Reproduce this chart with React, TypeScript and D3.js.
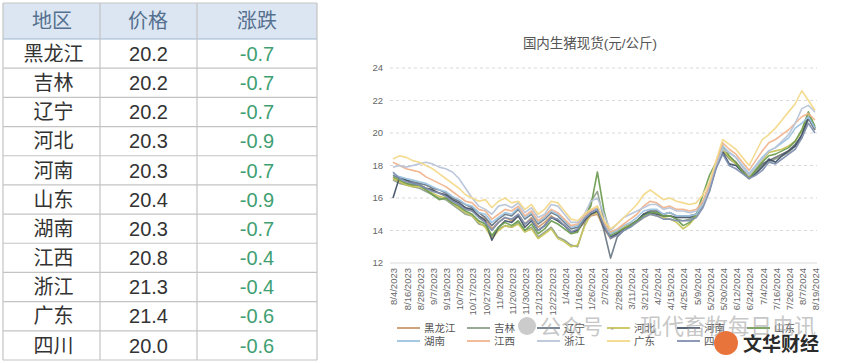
import React from 'react';
import * as d3 from 'd3';

// table data
const regions = ['黑龙江', '吉林', '辽宁', '河北', '河南', '山东', '湖南', '江西', '浙江', '广东', '四川'];
const prices = ['20.2', '20.2', '20.2', '20.3', '20.3', '20.4', '20.3', '20.8', '21.3', '21.4', '20.0'];
const changes = ['-0.7', '-0.7', '-0.7', '-0.9', '-0.7', '-0.9', '-0.7', '-0.4', '-0.4', '-0.6', '-0.6'];

// x axis labels (every other data point)
const tickLabels = [
  '8/4/2023', '8/16/2023', '8/28/2023', '9/7/2023', '9/19/2023', '10/7/2023', '10/17/2023', '10/27/2023',
  '11/8/2023', '11/20/2023', '11/30/2023', '12/12/2023', '12/22/2023', '1/4/2024', '1/16/2024', '1/26/2024',
  '2/7/2024', '2/28/2024', '3/11/2024', '3/21/2024', '4/2/2024', '4/15/2024', '4/25/2024', '5/9/2024',
  '5/20/2024', '5/30/2024', '6/12/2024', '6/24/2024', '7/4/2024', '7/16/2024', '7/26/2024', '8/7/2024', '8/19/2024',
];
const yTicks = [12, 14, 16, 18, 20, 22, 24];

const heilongjiang = [17.2,17.0,16.9,16.8,16.8,16.6,16.5,16.3,16.1,15.9,15.6,15.4,15.2,14.9,14.7,14.1,14.5,14.8,14.6,15.0,14.4,14.8,14.2,14.5,14.9,14.6,14.3,13.9,14.0,14.5,14.9,15.0,14.1,13.5,13.8,14.1,14.3,14.6,15.0,15.2,15.2,15.0,15.1,14.9,14.9,14.9,15.0,15.6,16.5,17.9,18.9,18.5,18.2,17.7,17.3,17.7,18.1,18.3,18.5,18.7,18.9,19.3,19.8,20.9,20.2];
const jilin = [17.1,16.9,16.8,16.7,16.6,16.4,16.2,16.0,15.9,15.6,15.3,15.0,14.9,14.4,14.3,13.6,14.1,14.3,14.2,14.5,14.0,14.2,13.6,13.9,14.2,13.6,13.4,13.1,13.0,14.3,15.8,16.4,14.6,13.8,13.9,14.2,14.4,14.6,15.0,15.2,15.1,14.9,14.9,14.7,14.6,14.7,14.9,15.6,16.6,17.9,18.9,18.4,18.1,17.6,17.2,17.6,18.0,18.2,18.4,18.6,18.8,19.2,19.7,20.9,20.2];
const liaoning = [17.4,17.2,17.1,17.0,16.9,16.8,16.6,16.5,16.3,16.0,15.8,15.6,15.4,15.1,14.8,14.3,14.7,15.0,14.9,15.3,14.7,15.0,14.4,14.7,15.1,14.9,14.5,14.1,14.2,14.8,15.2,15.4,14.0,12.3,13.6,14.0,14.3,14.6,15.0,15.2,15.2,15.0,15.1,14.9,14.9,14.9,15.0,15.6,16.5,17.9,18.9,18.5,18.2,17.7,17.3,17.7,18.1,18.3,18.5,18.7,18.9,19.3,19.8,20.9,20.2];
const hebei = [17.2,17.0,16.8,16.7,16.7,16.5,16.3,16.1,16.0,15.7,15.4,15.1,14.9,14.5,14.2,13.5,14.0,14.3,14.2,14.4,13.9,14.1,13.5,13.8,14.1,13.5,13.3,13.0,13.1,14.2,15.0,15.1,14.3,13.9,14.0,14.2,14.3,14.5,14.8,15.0,14.9,14.8,14.7,14.5,14.1,14.4,14.9,15.8,16.8,18.1,19.0,18.5,18.1,17.6,17.3,17.8,18.3,18.8,18.9,19.0,19.2,19.5,20.1,21.2,20.3];
const henan = [16.0,17.3,17.1,16.9,16.8,16.6,16.5,16.3,16.2,15.9,15.7,15.4,15.3,14.9,14.6,13.4,14.2,14.6,14.5,14.9,14.2,14.6,14.0,14.3,14.8,14.6,14.3,13.9,14.0,14.6,15.0,15.2,14.2,13.6,13.8,14.1,14.3,14.6,15.0,15.1,15.0,14.9,14.9,14.8,14.8,14.8,15.0,15.6,16.6,18.0,18.8,18.1,18.0,17.6,17.2,17.5,17.9,18.4,18.2,18.6,18.9,19.2,19.9,21.0,20.3];
const shandong = [17.3,17.1,16.9,16.8,16.8,16.5,16.2,15.9,16.0,15.7,15.5,15.2,15.0,14.6,14.4,13.7,14.2,14.5,14.3,14.6,14.0,14.4,13.8,14.1,14.6,14.4,14.1,13.8,13.9,14.8,15.5,17.6,15.2,13.7,13.9,14.1,14.3,14.6,14.9,15.1,15.1,14.9,14.9,14.7,14.3,14.5,15.0,16.2,17.4,18.2,19.2,18.6,18.2,17.6,17.2,17.7,18.2,18.6,18.7,18.9,19.1,19.5,20.2,21.3,20.4];
const hunan = [17.5,17.3,17.2,17.1,17.0,16.9,16.7,16.5,16.4,16.1,15.9,15.6,15.5,15.1,15.0,14.5,14.8,15.1,15.0,15.4,14.8,15.1,14.5,14.8,15.2,15.0,14.6,14.2,14.3,14.8,15.2,15.4,14.4,13.8,14.0,14.3,14.5,14.8,15.2,15.3,15.3,15.0,15.1,14.9,14.9,14.9,15.0,15.6,16.7,18.1,19.2,18.8,18.5,18.0,17.5,18.0,18.5,18.9,19.1,19.4,19.7,20.3,20.6,21.0,20.3];
const jiangxi = [18.2,18.0,17.8,17.7,17.6,17.3,17.1,16.9,16.7,16.4,16.1,15.8,15.7,15.3,15.2,14.7,15.0,15.3,15.2,15.5,14.9,15.2,14.6,14.9,15.3,15.1,14.7,14.3,14.4,14.9,15.2,15.5,14.5,13.9,14.1,14.4,14.7,15.0,15.5,15.8,15.7,15.4,15.5,15.3,15.3,15.2,15.3,15.8,16.8,18.2,19.4,19.0,18.7,18.2,17.7,18.3,18.9,19.4,19.6,19.9,20.2,20.6,21.0,21.2,20.8];
const zhejiang = [17.9,18.0,17.9,18.0,18.1,18.2,18.1,17.9,17.8,17.6,17.2,16.6,16.0,15.5,15.3,15.0,15.5,15.6,15.4,15.7,15.1,15.4,14.8,15.0,15.6,15.5,15.0,14.5,14.5,15.0,15.8,16.0,15.0,14.0,14.4,14.8,15.0,15.2,15.4,15.6,15.6,15.3,15.4,15.2,15.2,15.1,15.2,15.6,16.5,17.9,19.0,18.8,18.5,17.9,17.4,17.9,18.4,18.9,19.1,19.5,19.9,20.6,21.5,21.7,21.3];
const guangdong = [18.4,18.6,18.5,18.3,18.2,18.0,17.8,17.5,17.2,16.9,16.6,16.2,16.0,15.8,15.9,15.4,15.8,16.0,15.7,15.8,15.3,15.6,15.0,15.3,15.8,15.7,15.2,14.7,14.6,15.0,15.3,15.5,14.6,14.1,14.4,14.8,15.2,15.6,16.2,16.5,16.2,15.9,16.0,15.8,15.7,15.6,15.7,16.2,17.0,18.3,19.6,19.3,19.0,18.5,18.0,18.8,19.6,19.9,20.3,20.8,21.3,21.8,22.6,22.0,21.4];
const sichuan = [17.6,17.2,17.0,16.9,16.8,16.6,16.4,16.3,16.1,15.8,15.6,15.3,15.2,14.8,14.5,14.0,14.5,14.8,14.7,15.0,14.4,14.7,14.0,14.3,14.8,14.7,14.3,13.9,14.1,14.7,15.1,15.3,14.3,13.5,13.7,14.0,14.2,14.5,14.8,15.0,14.9,14.7,14.7,14.6,14.6,14.6,14.8,15.4,16.4,17.8,18.7,18.0,17.8,17.5,17.2,17.4,17.7,18.2,18.1,18.4,18.7,19.0,19.7,20.6,20.0];

const seriesValues = [heilongjiang, jilin, liaoning, hebei, henan, shandong, hunan, jiangxi, zhejiang, guangdong, sichuan];
const seriesColors = ['#c99a6e', '#8fa08a', '#6d7a86', '#c9c55a', '#44546a', '#6f9e52', '#9cc3e0', '#f1b48e', '#b8c4d8', '#f3d98a', '#7f8fb0'];

const font = '"Liberation Sans", "Noto Sans CJK SC", sans-serif';

const colX = [3, 100, 197, 317];
const headerTop = 3;
const headerBottom = 39;
const rowH = (360 - headerBottom) / regions.length;

const Table = () => (
  <g fontFamily={font}>
    <rect x={colX[0]} y={headerTop} width={colX[3] - colX[0]} height={headerBottom - headerTop} fill="#dbe6f2" />
    {regions.map((r, i) => {
      const yc = headerBottom + rowH * (i + 0.5);
      return (
        <g key={r}>
          <text x={(colX[0] + colX[1]) / 2 + 2} y={yc} dy="0.36em" textAnchor="middle" fontSize={20} fill="#333">{r}</text>
          <text x={(colX[1] + colX[2]) / 2} y={yc} dy="0.36em" textAnchor="middle" fontSize={20} fill="#333">{prices[i]}</text>
          <text x={257} y={yc} dy="0.36em" textAnchor="middle" fontSize={20} fill="#3f9f72">{changes[i]}</text>
        </g>
      );
    })}
    {['地区', '价格', '涨跌'].map((h, i) => (
      <text key={h} x={[52, 148, 257][i]} y={(headerTop + headerBottom) / 2} dy="0.36em" textAnchor="middle" fontSize={20} fill="#55708f">{h}</text>
    ))}
    {d3.range(regions.length + 1).map(i => (
      <line key={i} x1={colX[0]} x2={colX[3]} y1={headerBottom + rowH * i} y2={headerBottom + rowH * i}
        stroke={i === 0 ? '#9fb6cf' : '#c4c4c4'} strokeWidth={1.2} />
    ))}
    <line x1={colX[0]} x2={colX[3]} y1={headerTop} y2={headerTop} stroke="#c4c4c4" />
    {colX.map((x, i) => (
      <line key={i} x1={x} x2={x} y1={headerTop} y2={360} stroke="#c4c4c4" strokeWidth={1.2} />
    ))}
  </g>
);

const Chart = () => {
  const x = d3.scaleLinear().domain([0, heilongjiang.length - 1]).range([393, 815]);
  const y = d3.scaleLinear().domain([12, 24]).range([263, 68]);
  const line = d3.line<number>().x((_, i) => x(i)).y(d => y(d));

  return (
    <g fontFamily={font}>
      <text x={590} y={43} textAnchor="middle" dy="0.36em" fontSize={13.5} fill="#555">国内生猪现货(元/公斤)</text>
      {yTicks.map(t => (
        <g key={t}>
          <line x1={390} x2={817} y1={y(t)} y2={y(t)} stroke="#d9d9d9" strokeDasharray={t === 12 ? undefined : '3,3'} />
          <text x={383} y={y(t)} dy="0.35em" textAnchor="end" fontSize={9.5} fill="#666">{t}</text>
        </g>
      ))}
      {seriesValues.map((s, i) => (
        <path key={i} d={line(s) || ''} fill="none" stroke={seriesColors[i]} strokeWidth={1.6} strokeLinejoin="round" opacity={0.95} />
      ))}
      {tickLabels.map((lab, k) => (
        <text key={lab} transform={`translate(${x(k * 2) + 1},268) rotate(-90)`} textAnchor="end" dy="0.35em" fontSize={9.5} fill="#666">{lab}</text>
      ))}
      {regions.map((r, i) => {
        const col = i % 6;
        const row = Math.floor(i / 6);
        const lx = 397 + col * 70;
        const ly = 328 + row * 13;
        return (
          <g key={r}>
            <line x1={lx} x2={lx + 23} y1={ly} y2={ly} stroke={seriesColors[i]} strokeWidth={1.8} />
            <text x={lx + 27} y={ly} dy="0.36em" fontSize={10.5} fill="#555">{r}</text>
          </g>
        );
      })}
    </g>
  );
};

// watermark overlay as seen in the source image
const Watermark = () => (
  <g fontFamily={font}>
    <circle cx={527} cy={326} r={9} fill="#b5b5b5" opacity={0.7} />
    <text x={540} y={326} dy="0.36em" fontSize={21} fill="#9a9a9a" opacity={0.55}>公众号 ·</text>
    <text x={640} y={326} dy="0.36em" fontSize={22} fill="#9a9a9a" opacity={0.55}>现代畜牧每日电讯</text>
    <circle cx={726} cy={343} r={12} fill="#e8743b" />
    <text x={743} y={344} dy="0.36em" fontSize={19} fontWeight="bold" fill="#2b2b2b">文华财经</text>
  </g>
);

export default function App() {
  return (
    <svg width={855} height={363} style={{ position: 'absolute', left: 0, top: 0, background: '#fff' }}>
      <Table />
      <Chart />
      <Watermark />
    </svg>
  );
}
